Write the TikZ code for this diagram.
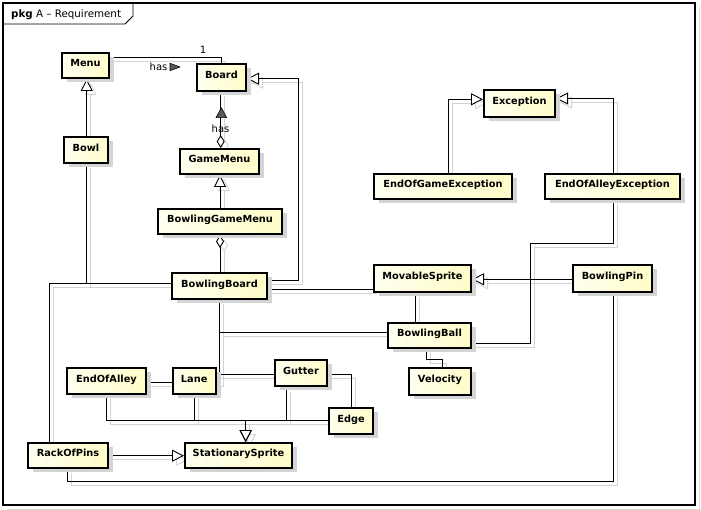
\documentclass[tikz,border=0pt]{standalone}
\usepackage{fontspec}
\setmainfont{DejaVu Sans}
\usetikzlibrary{arrows.meta,shadows,backgrounds}

% every connector, drawn once in the style given as #1
\newcommand\umlconnectors[1]{%
  % Menu -- Board
  \draw[#1] (menu.east |- 0,57.3) -| (board.north -| 221.7,0);
  % Board -- GameMenu (aggregation)
  \draw[#1,agg] (gamemenu.north -| 220.7,0) -- (board.south -| 220.7,0);
  % Bowl -> Menu
  \draw[#1,gen] (bowl.north -| 86.7,0) -- (menu.south -| 86.7,0);
  % BowlingGameMenu -> GameMenu
  \draw[#1,gen] (bgm.north -| 220,0) -- (gamemenu.south -| 220,0);
  % BowlingGameMenu -- BowlingBoard (aggregation)
  \draw[#1,agg] (bgm.south -| 220,0) -- (bb.north -| 220,0);
  % BowlingBoard -> Board
  \draw[#1,gen] (bb.east |- 0,280) -| (298.3,78.7) -- (board.east |- 0,78.7);
  % Bowl -- BowlingBoard
  \draw[#1] (bowl.south -| 86.7,0) |- (bb.west |- 0,283.3);
  % RackOfPins -- BowlingBoard
  \draw[#1] (rack.north -| 49.3,0) |- (bb.west |- 0,283.3);
  % BowlingBoard -- MovableSprite
  \draw[#1] (bb.east |- 0,289.3) -- (movable.west |- 0,289.3);
  % BowlingBoard -- BowlingBall
  \draw[#1] (bb.south -| 219,0) |- (ball.west |- 0,332.5);
  % BowlingBoard -- EndOfAlley
  \draw[#1] (bb.south -| 219,0) |- (eoa.east |- 0,382.3);
  % Lane -- Gutter
  \draw[#1] (lane.east |- 0,374) -- (gutter.west |- 0,374);
  % Gutter -- Edge
  \draw[#1] (gutter.east |- 0,374.3) -| (edge.north -| 351.3,0);
  % the four StationarySprite subclasses
  \draw[#1,gen] (eoa.south -| 106.7,0) |- (245.7,420.3) -- (ss.north -| 245.7,0);
  \draw[#1,gen] (lane.south -| 194.3,0) |- (245.7,420.3) -- (ss.north -| 245.7,0);
  \draw[#1,gen] (gutter.south -| 286.7,0) |- (245.7,420.3) -- (ss.north -| 245.7,0);
  \draw[#1,gen] (edge.west |- 0,420.7) -| (ss.north -| 245.7,0);
  % RackOfPins -> StationarySprite
  \draw[#1,gen] (rack.east |- 0,455.7) -- (ss.west |- 0,455.7);
  % RackOfPins -- BowlingPin
  \draw[#1] (rack.south -| 67.7,0) -- (67.7,481.5) -| (pin.south -| 613.3,0);
  % BowlingPin -> MovableSprite
  \draw[#1,gen] (pin.west |- 0,279.3) -- (movable.east |- 0,279.3);
  % MovableSprite -- BowlingBall
  \draw[#1] (movable.south -| 415.7,0) -- (ball.north -| 415.7,0);
  % BowlingBall -- Velocity
  \draw[#1] (ball.south -| 426.7,0) -- (426.7,359.3) -| (vel.north -| 442.7,0);
  % BowlingBall -- EndOfAlleyException
  \draw[#1] (ball.east |- 0,343.3) -| (530.7,243.3) -| (eoae.south -| 613.3,0);
  % exceptions -> Exception
  \draw[#1,gen] (eoge.north -| 448.3,0) |- (exception.west |- 0,99.3);
  \draw[#1,gen] (eoae.north -| 613.3,0) |- (exception.east |- 0,98.5);
}

\begin{document}
\begin{tikzpicture}[x=1pt,y=-1pt,
  font=\fontsize{10}{12}\selectfont,
  cls/.style 2 args={draw=black, line width=2.2pt,
    left color={rgb,255:red,255;green,255;blue,240},
    right color={rgb,255:red,255;green,253;blue,200},
    drop shadow={shadow xshift=5pt, shadow yshift=-4pt, fill=black!17, opacity=1},
    inner sep=0pt, minimum width=#1-2.2, minimum height=#2-2.2,
    font=\fontsize{9.8}{12}\selectfont\bfseries,
    text height=7.4pt, text depth=5pt},
  wire/.style={draw=black, line width=0.9pt},
  wireshadow/.style={draw=black!17, line width=0.9pt,
    transform canvas={xshift=4pt, yshift=-4pt}},
  gen/.style={-{Triangle[length=12pt,width=12pt,fill=white]}},
  agg/.style={{Diamond[length=13pt,width=8pt,fill=white]}-},
  navtip/.style={fill=black!65, draw=black, line width=0.6pt, line join=round}]

\useasboundingbox (0,0) rectangle (701,510);

% classes
\node[cls={49}{27}]  (menu)      at (85.5,65.5)  {Menu};
\node[cls={51}{29}]  (board)     at (221.5,77.5) {Board};
\node[cls={46}{28}]  (bowl)      at (86,150)     {Bowl};
\node[cls={81}{27}]  (gamemenu)  at (219.5,161.5){GameMenu};
\node[cls={126}{27}] (bgm)       at (220,221.5)  {BowlingGameMenu};
\node[cls={97}{28}]  (bb)        at (219.5,286)  {BowlingBoard};
\node[cls={73}{29}]  (exception) at (519.5,103.5){Exception};
\node[cls={140}{27}] (eoge)      at (443,186.5)  {EndOfGameException};
\node[cls={137}{27}] (eoae)      at (612.5,186.5){EndOfAlleyException};
\node[cls={99}{29}]  (movable)   at (422.5,278.5){MovableSprite};
\node[cls={81}{29}]  (pin)       at (612.5,278.5){BowlingPin};
\node[cls={85}{27}]  (ball)      at (429.5,335.5){BowlingBall};
\node[cls={64}{29}]  (vel)       at (440,381.5)  {Velocity};
\node[cls={81}{28}]  (eoa)       at (106.5,381)  {EndOfAlley};
\node[cls={45}{28}]  (lane)      at (194.2,381)  {Lane};
\node[cls={54}{28}]  (gutter)    at (301,373)    {Gutter};
\node[cls={46}{28}]  (edge)      at (351,421)    {Edge};
\node[cls={109}{27}] (ss)        at (238.5,455.5){StationarySprite};
\node[cls={82}{27}]  (rack)      at (68,455.5)   {RackOfPins};

% association labels
\node (mult) at (203,49.5) {1};
\node (hasA) at (158.5,66.5) {has};
\draw[navtip] (170,63.3) -- (170,70.7) -- (180,67) -- cycle;
\node (hasB) at (220.5,129) {has};
\draw[navtip] (216,117.7) -- (226.7,117.7) -- (221.3,107.7) -- cycle;

\begin{pgfonlayer}{background}
  % package frame with its name tab
  \draw[black!15, line width=1pt] (699,7) -- (699,509) -- (7,509);
  \draw[line width=1.1pt] (3,3) rectangle (695,505);
  \draw[line width=0.9pt] (3,24) -- (125,24) -- (133,16) -- (133,3);
  \node[anchor=west, inner sep=0pt, font=\fontsize{10.3}{12}\selectfont] (pkgname) at (11,14.5) {\textbf{pkg} A – Requirement};
  \umlconnectors{wireshadow}
  \umlconnectors{wire}
\end{pgfonlayer}
\end{tikzpicture}
\end{document}
